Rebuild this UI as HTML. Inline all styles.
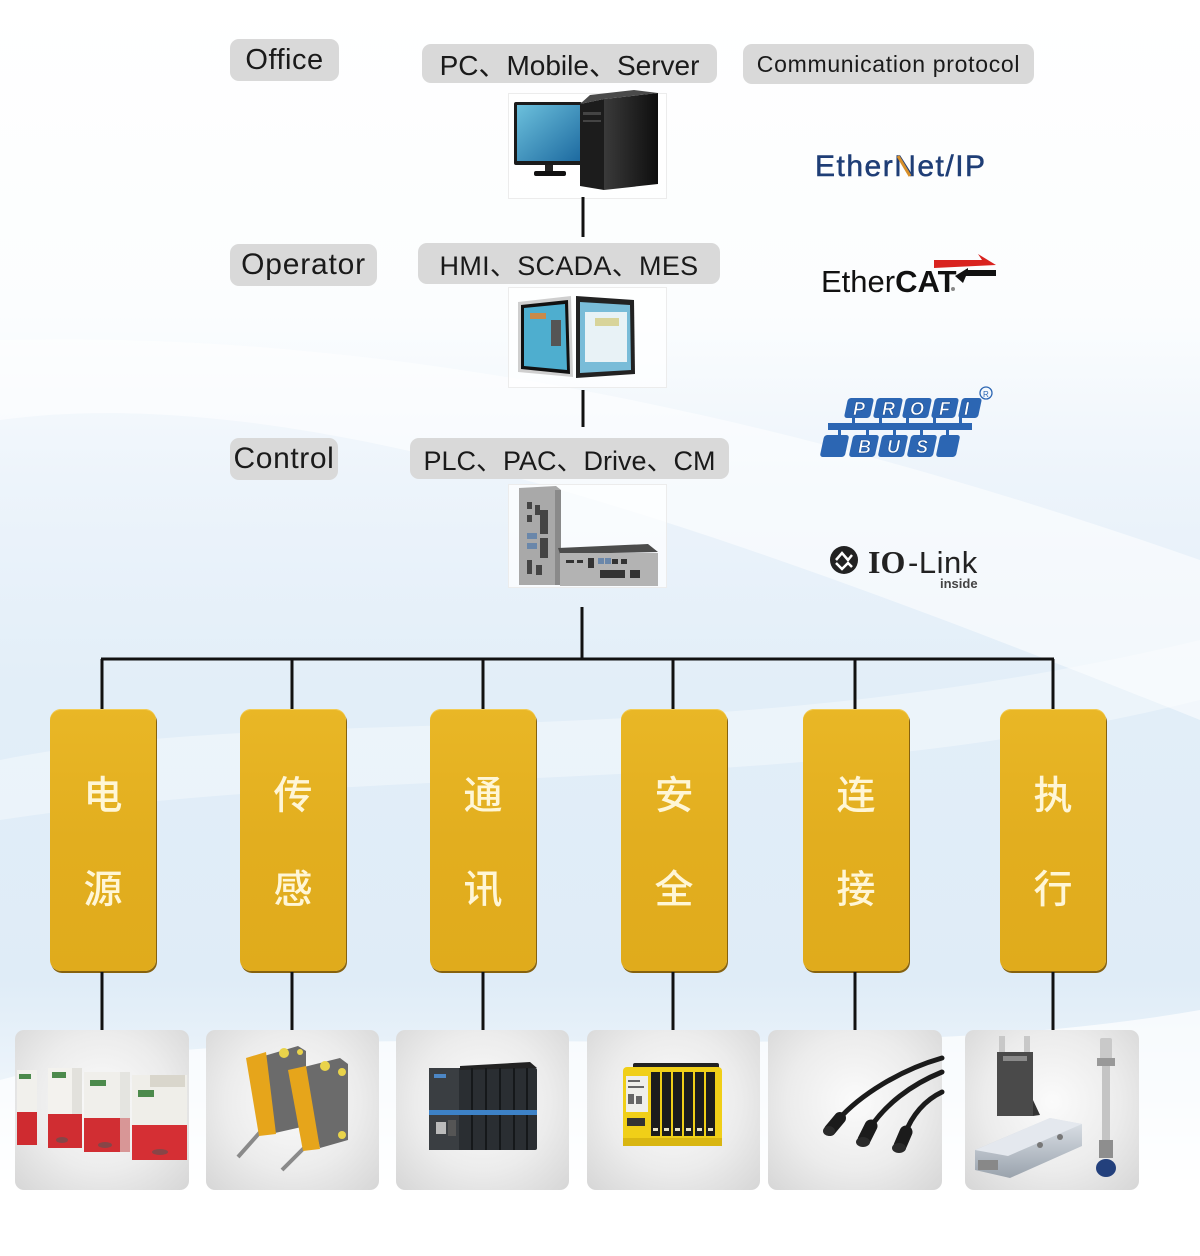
<!DOCTYPE html>
<html><head><meta charset="utf-8">
<style>
html,body{margin:0;padding:0;}
body{width:1200px;height:1256px;position:relative;overflow:hidden;background:#fff;font-family:"Liberation Sans","Noto Sans CJK SC",sans-serif;}
.abs{position:absolute;}
.pill{position:absolute;background:#d9d9d9;border-radius:9px;color:#1a1a1a;display:flex;align-items:center;justify-content:center;white-space:nowrap;}
.imgbox{position:absolute;left:508px;width:157px;border:1px solid #ececec;background:rgba(255,255,255,0.7);}
.yb{position:absolute;top:709px;width:106px;height:262px;background:linear-gradient(#e9b726,#e2ae1f 50%,#e0ab1c);border-radius:11px;box-shadow:1px 2px 0 #86620e, inset 0 1px 0 #f3cc55;}
.yb span{position:absolute;left:0;width:106px;text-align:center;font-family:"Noto Sans CJK SC","WenQuanYi Zen Hei",sans-serif;font-size:39px;font-weight:500;line-height:44px;color:#fff6d6;}
.card{position:absolute;top:1030px;height:160px;border-radius:9px;background:radial-gradient(ellipse at 50% 45%,#fbfbfb 0%,#ececec 55%,#d6d6d6 100%);}
</style></head><body>

<svg class="abs" style="left:0;top:0" width="1200" height="1256">
<defs>
<linearGradient id="bg" x1="0" y1="0" x2="0" y2="1">
<stop offset="0" stop-color="#ffffff"/>
<stop offset="0.25" stop-color="#fbfdfe"/>
<stop offset="0.38" stop-color="#edf4fb"/>
<stop offset="0.55" stop-color="#e2eef8"/>
<stop offset="0.78" stop-color="#dfecf7"/>
<stop offset="0.87" stop-color="#eef5fb"/>
<stop offset="0.95" stop-color="#ffffff"/>
<stop offset="1" stop-color="#ffffff"/>
</linearGradient>
</defs>
<rect width="1200" height="1256" fill="url(#bg)"/>
<path d="M0 420 C300 380 700 520 1200 720 L1200 560 C800 420 400 330 0 340 Z" fill="#ffffff" opacity="0.55"/>
<path d="M0 760 C300 700 700 760 1200 640 L1200 700 C800 800 400 760 0 820 Z" fill="#ffffff" opacity="0.35"/>
<path d="M0 1080 C300 1000 800 1080 1200 1010 L1200 1256 L0 1256 Z" fill="#ffffff" opacity="0.7"/>
</svg>

<!-- pills -->
<div class="pill" style="left:230px;top:39px;width:109px;height:42px;font-size:29px;letter-spacing:0.5px;">Office</div>
<div class="pill" style="left:422px;top:44px;width:295px;height:39px;font-size:28px;">PC、Mobile、Server</div>
<div class="pill" style="left:743px;top:44px;width:291px;height:40px;font-size:23px;letter-spacing:0.7px;">Communication protocol</div>
<div class="pill" style="left:230px;top:244px;width:147px;height:42px;font-size:30px;letter-spacing:0.8px;">Operator</div>
<div class="pill" style="left:418px;top:243px;width:302px;height:41px;font-size:27px;letter-spacing:0.3px;">HMI、SCADA、MES</div>
<div class="pill" style="left:230px;top:438px;width:108px;height:42px;font-size:30px;letter-spacing:0.6px;">Control</div>
<div class="pill" style="left:410px;top:438px;width:319px;height:41px;font-size:27px;">PLC、PAC、Drive、CM</div>

<div class="imgbox" style="top:93px;height:104px;"></div>
<div class="imgbox" style="top:287px;height:99px;"></div>
<div class="imgbox" style="top:484px;height:102px;"></div>

<!-- yellow boxes -->
<div class="yb" style="left:50px"><span style="top:62px">电</span><span style="top:156px">源</span></div>
<div class="yb" style="left:240px"><span style="top:62px">传</span><span style="top:156px">感</span></div>
<div class="yb" style="left:430px"><span style="top:62px">通</span><span style="top:156px">讯</span></div>
<div class="yb" style="left:621px"><span style="top:62px">安</span><span style="top:156px">全</span></div>
<div class="yb" style="left:803px"><span style="top:62px">连</span><span style="top:156px">接</span></div>
<div class="yb" style="left:1000px"><span style="top:62px">执</span><span style="top:156px">行</span></div>

<!-- cards -->
<div class="card" style="left:15px;width:174px"></div>
<div class="card" style="left:206px;width:173px"></div>
<div class="card" style="left:396px;width:173px"></div>
<div class="card" style="left:587px;width:173px"></div>
<div class="card" style="left:768px;width:174px"></div>
<div class="card" style="left:965px;width:174px"></div>

<svg class="abs" style="left:0;top:0" width="1200" height="1256">
<defs>
<linearGradient id="scr" x1="0" y1="0" x2="1" y2="1"><stop offset="0" stop-color="#6cc0dc"/><stop offset="1" stop-color="#1d6aa0"/></linearGradient>
<linearGradient id="tow" x1="0" y1="0" x2="1" y2="0"><stop offset="0" stop-color="#3a3a3a"/><stop offset="1" stop-color="#0e0e0e"/></linearGradient>
<linearGradient id="silv" x1="0" y1="0" x2="0" y2="1"><stop offset="0" stop-color="#dfe4ea"/><stop offset="1" stop-color="#9aa3ad"/></linearGradient>
</defs>
<!-- connectors -->
<g stroke="#111" stroke-width="3" fill="none">
<line x1="583" y1="197" x2="583" y2="237"/>
<line x1="583" y1="390" x2="583" y2="427"/>
<line x1="582" y1="607" x2="582" y2="660"/>
<line x1="101" y1="659" x2="1054" y2="659"/>
<line x1="102" y1="659" x2="102" y2="709"/>
<line x1="292" y1="659" x2="292" y2="709"/>
<line x1="483" y1="659" x2="483" y2="709"/>
<line x1="673" y1="659" x2="673" y2="709"/>
<line x1="855" y1="659" x2="855" y2="709"/>
<line x1="1053" y1="659" x2="1053" y2="709"/>
<line x1="102" y1="972" x2="102" y2="1030"/>
<line x1="292" y1="972" x2="292" y2="1030"/>
<line x1="483" y1="972" x2="483" y2="1030"/>
<line x1="673" y1="972" x2="673" y2="1030"/>
<line x1="855" y1="972" x2="855" y2="1030"/>
<line x1="1053" y1="972" x2="1053" y2="1030"/>
</g>

<!-- PC -->
<rect x="514" y="102" width="68" height="63" rx="2" fill="#1b1b1b"/>
<rect x="517" y="105" width="63" height="56" fill="url(#scr)"/>
<rect x="545" y="165" width="8" height="7" fill="#222"/>
<rect x="534" y="171" width="32" height="5" rx="2" fill="#111"/>
<polygon points="580,104 604,99 604,190 580,186" fill="#1c1c1c"/>
<polygon points="604,99 658,93 658,184 604,190" fill="url(#tow)"/>
<polygon points="580,104 604,99 658,93 634,90 590,95" fill="#4a4a4a"/>
<rect x="583" y="112" width="18" height="3" fill="#444"/>
<rect x="583" y="120" width="18" height="2" fill="#444"/>

<!-- HMI -->
<polygon points="518,302 571,296 573,377 518,372" fill="#cfcfcf"/>
<polygon points="521,305 568,300 570,374 521,369" fill="#111"/>
<polygon points="524,308 565,304 567,370 524,366" fill="#4eaecf"/>
<rect x="530" y="313" width="16" height="6" fill="#c98a4a"/>
<rect x="551" y="320" width="10" height="26" fill="#555"/>
<polygon points="576,296 634,300 635,374 576,378" fill="#222"/>
<polygon points="580,302 630,305 631,370 580,373" fill="#79bcd8"/>
<rect x="585" y="312" width="42" height="50" fill="#e8f2f6"/>
<rect x="595" y="318" width="24" height="8" fill="#d8d49a"/>

<!-- PLC -->
<polygon points="519,488 556,486 561,490 561,585 519,585" fill="#a9a9a9"/>
<rect x="555" y="490" width="6" height="95" fill="#8a8a8a"/>
<g fill="#444"><rect x="527" y="502" width="5" height="7"/><rect x="535" y="505" width="5" height="10"/><rect x="527" y="515" width="5" height="7"/><rect x="540" y="510" width="8" height="24"/><rect x="540" y="538" width="8" height="20"/><rect x="527" y="560" width="5" height="14"/><rect x="536" y="565" width="6" height="10"/></g>
<g fill="#6a87aa"><rect x="527" y="533" width="10" height="6"/><rect x="527" y="543" width="10" height="6"/></g>
<polygon points="558,548 648,544 658,552 560,554" fill="#4c4c4c"/>
<rect x="560" y="553" width="98" height="33" fill="#b3b3b3"/>
<g fill="#333"><rect x="566" y="560" width="8" height="3"/><rect x="577" y="560" width="6" height="3"/><rect x="588" y="558" width="6" height="10"/><rect x="612" y="559" width="6" height="5"/><rect x="621" y="559" width="6" height="5"/><rect x="600" y="570" width="25" height="8"/><rect x="630" y="570" width="10" height="8"/></g>
<g fill="#6a87aa"><rect x="598" y="558" width="6" height="6"/><rect x="605" y="558" width="6" height="6"/></g>

<!-- EtherNet/IP -->
<text x="815" y="176" font-family="Liberation Sans, sans-serif" font-size="30" fill="#1f3e76" stroke="#1f3e76" stroke-width="0.5" letter-spacing="1.5">EtherNet/IP</text>
<line x1="898" y1="156" x2="910" y2="176" stroke="#d8902a" stroke-width="3"/>

<!-- EtherCAT -->
<text x="821" y="292" font-family="Liberation Sans, sans-serif" font-size="31" fill="#111">Ether<tspan font-weight="bold">CAT</tspan></text>
<circle cx="953" cy="289" r="2" fill="#888"/>
<polygon points="934,260 982,260 978,254 996,265 934,268" fill="#d9231f"/>
<polygon points="996,270 968,270 968,268 955,276 963,283 966,276 996,276" fill="#111"/>

<!-- PROFIBUS -->
<g fill="#2c66b3">
<g transform="skewX(-12) translate(86.7,0)">
<rect x="846" y="398" width="26" height="20" rx="3"/>
<rect x="875" y="398" width="26" height="20" rx="3"/>
<rect x="904" y="398" width="26" height="20" rx="3"/>
<rect x="933" y="398" width="24" height="20" rx="3"/>
<rect x="960" y="398" width="20" height="20" rx="3"/>
</g>
<g transform="skewX(-12) translate(94.8,0)">
<rect x="822" y="435" width="25" height="22" rx="3"/>
<rect x="851" y="435" width="26" height="22" rx="3"/>
<rect x="880" y="435" width="26" height="22" rx="3"/>
<rect x="909" y="435" width="26" height="22" rx="3"/>
<rect x="938" y="435" width="20" height="22" rx="3"/>
</g>
<rect x="828" y="423" width="144" height="7"/>
<rect x="852" y="417" width="3" height="7"/><rect x="879" y="417" width="3" height="7"/><rect x="906" y="417" width="3" height="7"/><rect x="933" y="417" width="3" height="7"/><rect x="959" y="417" width="3" height="7"/>
<rect x="838" y="429" width="3" height="7"/><rect x="866" y="429" width="3" height="7"/><rect x="893" y="429" width="3" height="7"/><rect x="920" y="429" width="3" height="7"/><rect x="946" y="429" width="3" height="7"/>
</g>
<g font-family="Liberation Sans, sans-serif" font-weight="bold" font-style="italic" font-size="18" fill="#fff" stroke="#1c4f95" stroke-width="0.6">
<text x="853" y="415">P</text><text x="882" y="415">R</text><text x="910" y="415">O</text><text x="939" y="415">F</text><text x="964" y="415">I</text>
<text x="858" y="453">B</text><text x="887" y="453">U</text><text x="916" y="453">S</text>
</g>
<circle cx="986" cy="393" r="6" fill="none" stroke="#2c66b3" stroke-width="1.3"/>
<text x="983" y="397" font-family="Liberation Sans, sans-serif" font-size="8" fill="#2c66b3">R</text>

<!-- IO-Link -->
<circle cx="844" cy="560" r="14" fill="#222"/>
<path d="M836 560 L842 553 L848 560 L852 555 M836 563 L842 569 L848 563 L852 567" stroke="#fff" stroke-width="2.5" fill="none"/>
<text x="868" y="573" font-family="Liberation Serif, serif" font-weight="bold" font-size="32" fill="#222">IO</text>
<text x="908" y="573" font-family="Liberation Sans, sans-serif" font-size="31" fill="#222" letter-spacing="0.5">-Link</text>
<text x="940" y="588" font-family="Liberation Sans, sans-serif" font-weight="bold" font-size="13" fill="#444">inside</text>

<!-- Card1: power supplies -->
<g>
<rect x="17" y="1070" width="20" height="44" fill="#f1f0ec"/><rect x="17" y="1112" width="20" height="33" fill="#cf2b30"/><rect x="19" y="1074" width="12" height="5" fill="#4c8a4c"/>
<rect x="48" y="1068" width="34" height="46" fill="#f3f2ee"/><rect x="48" y="1114" width="34" height="34" fill="#d02d32"/><rect x="52" y="1072" width="14" height="6" fill="#4c8a4c"/><rect x="72" y="1068" width="10" height="46" fill="#e2e1dc"/>
<rect x="84" y="1072" width="46" height="46" fill="#f0efeb"/><rect x="84" y="1118" width="46" height="34" fill="#d12e33"/><rect x="90" y="1080" width="16" height="6" fill="#4c8a4c"/><rect x="120" y="1072" width="10" height="80" fill="#dcdcd8" opacity="0.6"/>
<rect x="132" y="1075" width="55" height="50" fill="#efeee9"/><rect x="132" y="1125" width="55" height="35" fill="#d52f34"/><rect x="138" y="1090" width="16" height="7" fill="#4c8a4c"/><rect x="150" y="1075" width="35" height="12" fill="#d9d6cc"/>
<g fill="#555" opacity="0.6"><ellipse cx="62" cy="1140" rx="6" ry="3"/><ellipse cx="105" cy="1145" rx="7" ry="3"/><ellipse cx="160" cy="1152" rx="8" ry="3"/></g>
</g>

<!-- Card2: sensors -->
<g>
<line x1="262" y1="1130" x2="238" y2="1157" stroke="#8a8a8a" stroke-width="4"/>
<polygon points="264,1056 298,1046 306,1051 306,1126 275,1133" fill="#6b6b6b"/>
<polygon points="246,1058 266,1052 276,1134 259,1136" fill="#e6a51b"/>
<circle cx="284" cy="1053" r="5" fill="#e9d34a"/><circle cx="300" cy="1052" r="3" fill="#e9d34a"/>
<line x1="305" y1="1147" x2="282" y2="1170" stroke="#8a8a8a" stroke-width="4"/>
<polygon points="300,1068 340,1058 348,1064 348,1140 320,1148" fill="#6b6b6b"/>
<polygon points="288,1070 306,1066 320,1149 303,1151" fill="#e6a51b"/>
<circle cx="325" cy="1066" r="5" fill="#e9d34a"/><circle cx="342" cy="1072" r="4" fill="#e9d34a"/><circle cx="342" cy="1135" r="4" fill="#e9d34a"/>
</g>

<!-- Card3: IO module -->
<g>
<rect x="429" y="1068" width="108" height="82" rx="2" fill="#2a2e32"/>
<rect x="429" y="1068" width="30" height="82" fill="#3a3e42"/>
<polygon points="460,1066 530,1062 537,1068 460,1070" fill="#222"/>
<g stroke="#15181a" stroke-width="2"><line x1="472" y1="1068" x2="472" y2="1150"/><line x1="486" y1="1068" x2="486" y2="1150"/><line x1="500" y1="1068" x2="500" y2="1150"/><line x1="514" y1="1068" x2="514" y2="1150"/><line x1="527" y1="1068" x2="527" y2="1150"/></g>
<rect x="429" y="1110" width="108" height="5" fill="#3d82c7"/>
<rect x="436" y="1122" width="10" height="12" fill="#bbb"/><rect x="448" y="1120" width="8" height="16" fill="#555"/>
<rect x="434" y="1074" width="12" height="4" fill="#4c86c4"/>
</g>

<!-- Card4: safety relay -->
<g>
<rect x="633" y="1063" width="86" height="6" rx="2" fill="#222"/>
<rect x="623" y="1067" width="99" height="78" rx="4" fill="#f0cf18"/>
<rect x="623" y="1138" width="99" height="8" fill="#d9b611"/>
<g fill="#1c1c1c"><rect x="651" y="1072" width="9" height="64"/><rect x="662" y="1072" width="9" height="64"/><rect x="673" y="1072" width="9" height="64"/><rect x="684" y="1072" width="9" height="64"/><rect x="695" y="1072" width="9" height="64"/><rect x="706" y="1072" width="9" height="64"/></g>
<g fill="#e9e4c9"><rect x="653" y="1128" width="5" height="3"/><rect x="664" y="1128" width="5" height="3"/><rect x="675" y="1128" width="5" height="3"/><rect x="686" y="1128" width="5" height="3"/><rect x="697" y="1128" width="5" height="3"/><rect x="708" y="1128" width="5" height="3"/></g>
<rect x="626" y="1076" width="22" height="36" fill="#eeeeea"/>
<g fill="#666"><rect x="628" y="1080" width="12" height="2"/><rect x="628" y="1086" width="16" height="2"/><rect x="628" y="1094" width="6" height="10"/><rect x="636" y="1096" width="6" height="8"/></g>
<rect x="627" y="1118" width="18" height="8" fill="#333"/>
</g>

<!-- Card5: cables -->
<g fill="none" stroke="#1b1b1b" stroke-linecap="round">
<path d="M942 1058 C900 1070 860 1095 838 1120" stroke-width="5"/>
<path d="M942 1072 C910 1085 885 1105 870 1128" stroke-width="5"/>
<path d="M942 1092 C925 1100 912 1115 905 1134" stroke-width="5"/>
<path d="M840 1118 L830 1130" stroke-width="12"/>
<path d="M871 1126 L864 1140" stroke-width="13"/>
<path d="M906 1132 L900 1146" stroke-width="13"/>
</g>
<g fill="#2a2a2a"><ellipse cx="829" cy="1131" rx="6" ry="5"/><ellipse cx="863" cy="1142" rx="7" ry="5"/><ellipse cx="899" cy="1148" rx="7" ry="5"/></g>

<!-- Card6: actuators -->
<g>
<rect x="999" y="1036" width="6" height="22" fill="#c8c8c8"/><rect x="1024" y="1036" width="6" height="22" fill="#c8c8c8"/>
<rect x="997" y="1052" width="36" height="64" fill="#4a4a4a"/>
<rect x="1003" y="1056" width="24" height="5" fill="#8a8a8a"/>
<polygon points="1033,1100 1040,1115 1033,1116" fill="#333"/>
<polygon points="975,1150 1050,1118 1082,1124 1082,1146 1010,1178 975,1170" fill="url(#silv)"/>
<polygon points="975,1150 1050,1118 1082,1124 1008,1156" fill="#e4e8ee"/>
<rect x="978" y="1160" width="20" height="10" fill="#888"/>
<circle cx="1040" cy="1145" r="3" fill="#777"/><circle cx="1060" cy="1137" r="3" fill="#777"/>
<rect x="1100" y="1038" width="12" height="22" rx="2" fill="#c9c9c9"/>
<rect x="1097" y="1058" width="18" height="8" fill="#999"/>
<rect x="1102" y="1066" width="8" height="80" fill="#c4c4c4"/>
<rect x="1099" y="1140" width="14" height="18" fill="#8e8e8e"/>
<ellipse cx="1106" cy="1168" rx="10" ry="9" fill="#23407c"/>
</g>
</svg>
</body></html>
